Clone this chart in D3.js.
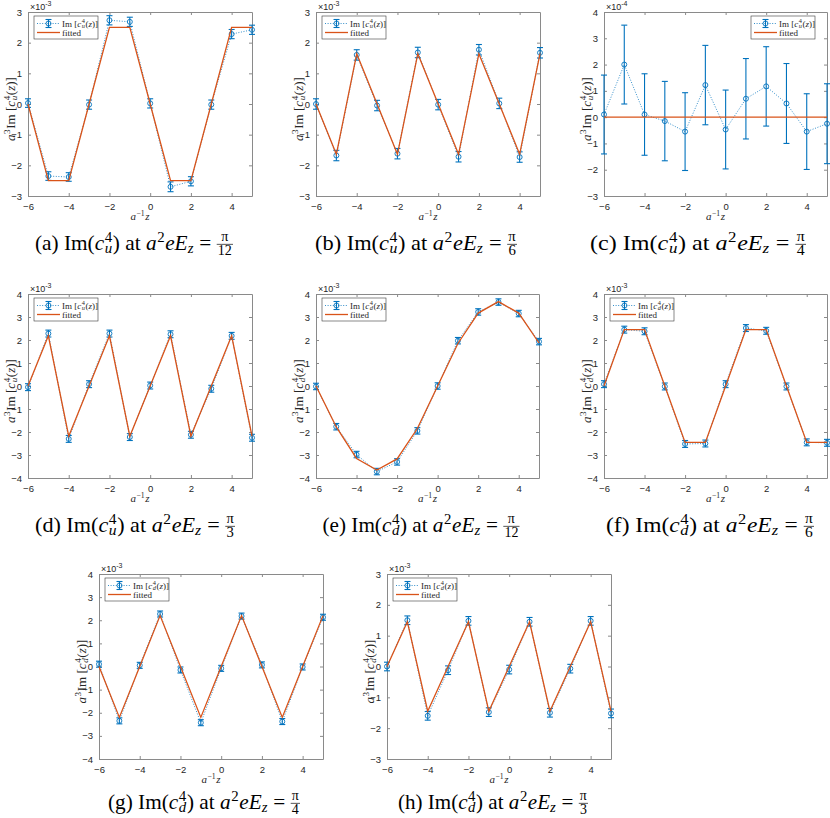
<!DOCTYPE html>
<html><head><meta charset="utf-8">
<script src="https://cdn.jsdelivr.net/npm/d3@7"></script>
<style>
body{margin:0;background:#fff;}
svg text{white-space:pre;}
</style></head>
<body><svg id="fig" width="830" height="818"></svg>
<script>
// ---------- data ----------
const zPos = [-6,-5,-4,-3,-2,-1,0,1,2,3,4,5];
const xTicks = [-6,-4,-2,0,2,4];

// (a) Im(c_u^4), a^2 eE_z = pi/12  (x10^-3)
const imA  = [0.03,-2.35,-2.38,-0.02,2.73,2.68,0.02,-2.70,-2.52,-0.02,2.28,2.42];
const errA = [0.14,0.14,0.14,0.15,0.15,0.15,0.15,0.16,0.15,0.15,0.15,0.15];
const fitA = [0,-2.5,-2.5,0,2.5,2.5,0,-2.5,-2.5,0,2.5,2.5];
// (b) Im(c_u^4), pi/6
const imB  = [0.00,-1.68,1.60,-0.05,-1.62,1.68,-0.02,-1.72,1.77,0.02,-1.73,1.67];
const errB = [0.17,0.17,0.17,0.17,0.17,0.17,0.17,0.17,0.17,0.17,0.17,0.17];
const fitB = [0,-1.64,1.64,0,-1.64,1.64,0,-1.64,1.64,0,-1.64,1.64];
// (c) Im(c_u^4), pi/4  (x10^-4)
const imC  = [0.10,2.00,0.10,-0.15,-0.55,1.22,-0.47,0.70,1.17,0.52,-0.55,-0.25];
const errC = [1.50,1.50,1.55,1.51,1.48,1.51,1.50,1.53,1.51,1.52,1.44,1.52];
const fitC = [0,0,0,0,0,0,0,0,0,0,0,0];
// (d) Im(c_u^4), pi/3
const imD  = [-0.05,2.28,-2.30,0.08,2.28,-2.22,0.02,2.25,-2.12,-0.12,2.18,-2.25];
const errD = [0.15,0.15,0.15,0.15,0.15,0.15,0.15,0.15,0.15,0.15,0.15,0.15];
const fitD = [0,2.18,-2.18,0,2.18,-2.18,0,2.18,-2.18,0,2.18,-2.18];
// (e) Im(c_d^4), pi/12
const imE  = [-0.02,-1.77,-2.98,-3.72,-3.30,-1.95,0.00,1.97,3.22,3.65,3.15,1.93];
const errE = [0.14,0.14,0.14,0.14,0.14,0.14,0.14,0.14,0.14,0.14,0.14,0.14];
const fitE = [0,-1.78,-3.15,-3.65,-3.17,-1.85,0,1.85,3.17,3.67,3.17,1.87];
// (f) Im(c_d^4), pi/6
const imF  = [0.08,2.45,2.38,-0.02,-2.52,-2.50,0.08,2.52,2.40,-0.02,-2.45,-2.47];
const errF = [0.15,0.15,0.15,0.15,0.15,0.15,0.15,0.15,0.15,0.15,0.15,0.15];
const fitF = [0,2.45,2.45,0,-2.45,-2.45,0,2.45,2.45,0,-2.45,-2.45];
// (g) Im(c_d^4), pi/4
const imG  = [0.10,-2.35,0.05,2.27,-0.15,-2.43,-0.08,2.18,0.07,-2.38,-0.02,2.13];
const errG = [0.13,0.13,0.13,0.13,0.13,0.13,0.13,0.13,0.13,0.13,0.13,0.13];
const fitG = [0,-2.2,0,2.2,0,-2.2,0,2.2,0,-2.2,0,2.2];
// (h) Im(c_d^4), pi/3
const imH  = [0.00,1.50,-1.60,-0.12,1.48,-1.48,-0.10,1.45,-1.50,-0.07,1.48,-1.52];
const errH = [0.14,0.14,0.14,0.14,0.14,0.14,0.14,0.14,0.14,0.14,0.14,0.14];
const fitH = [0,1.45,-1.45,0,1.45,-1.45,0,1.45,-1.45,0,1.45,-1.45];

const panelLetters = ["a","b","c","d","e","f","g","h"];
const quarkSub     = ["u","u","u","u","d","d","d","d"];
const fieldDenoms  = ["12","6","4","3","12","6","4","3"];
const yTickLists   = [[-3,-2,-1,0,1,2,3],[-3,-2,-1,0,1,2,3],[-3,-2,-1,0,1,2,3,4],
                      [-4,-3,-2,-1,0,1,2,3,4],[-4,-3,-2,-1,0,1,2,3,4],[-4,-3,-2,-1,0,1,2,3,4],
                      [-4,-3,-2,-1,0,1,2,3,4],[-3,-2,-1,0,1,2,3]];
const exponents    = ["-3","-3","-4","-3","-3","-3","-3","-3"];
const seriesVals   = [imA,imB,imC,imD,imE,imF,imG,imH];
const seriesErrs   = [errA,errB,errC,errD,errE,errF,errG,errH];
const seriesFits   = [fitA,fitB,fitC,fitD,fitE,fitF,fitG,fitH];

// ---------- layout ----------
const layout = [
  {left:28,  top:12,  w:224, h:184, leg:"nw", capX:134, capW:198, capDy:54},
  {left:316, top:12,  w:224, h:184, leg:"nw", capX:416, capW:202, capDy:54},
  {left:604, top:12,  w:223, h:184, leg:"ne", capX:698, capW:216, capDy:54},
  {left:28,  top:294, w:224, h:184, leg:"nw", capX:135, capW:200, capDy:54},
  {left:316, top:294, w:223, h:184, leg:"nw", capX:421, capW:197, capDy:54},
  {left:604, top:294, w:223, h:184, leg:"nw", capX:710, capW:208, capDy:54},
  {left:99,  top:574, w:224, h:185, leg:"nw", capX:204, capW:192, capDy:50},
  {left:387, top:574, w:224, h:185, leg:"nw", capX:493, capW:190, capDy:50}
];

const BLUE = "#0072BD", ORANGE = "#D95319", AXC = "#8a8a8a", TXT = "#262626";
const SERIF = "'Liberation Serif','DejaVu Serif',serif";
const SANS = "'Liberation Sans',Arial,sans-serif";
const svg = d3.select("#fig");

// ---------- small math typesetter ----------
function mathText(parent, tokens, size, fill) {
  const g = parent.append("g").attr("font-family", SERIF).attr("fill", fill || TXT);
  let x = 0;
  const add = (str, italic, sz, dy, xx) => {
    const t = g.append("text").attr("x", xx).attr("y", dy)
      .attr("font-size", sz).attr("font-style", italic ? "italic" : "normal").text(str);
    return t.node().getComputedTextLength();
  };
  tokens.forEach(tk => {
    if (tk.t !== undefined) x += add(tk.t, tk.i, size, 0, x);
    else if (tk.sup !== undefined) x += add(tk.sup, tk.i, size*0.7, -0.38*size, x + 0.5) + 1;
    else if (tk.sub !== undefined) x += add(tk.sub, tk.i, size*0.7, 0.14*size, x) + 0.5;
    else if (tk.ss !== undefined) {
      const w1 = add(tk.ss[0], false, size*0.7, -0.38*size, x + 0.5);
      const w2 = add(tk.ss[1], true, size*0.7, 0.14*size, x + 0.5);
      x += Math.max(w1, w2) + 1;
    } else if (tk.frac !== undefined) {
      const fs = size*0.66;
      const tn = g.append("text").attr("y", -0.42*size).attr("font-size", fs).text(tk.frac[0]);
      const td = g.append("text").attr("y", 0.22*size).attr("font-size", fs).text(tk.frac[1]);
      const wn = tn.node().getComputedTextLength(), wd = td.node().getComputedTextLength();
      const w = Math.max(wn, wd) + 2;
      tn.attr("x", x + (w - wn)/2); td.attr("x", x + (w - wd)/2);
      g.append("line").attr("x1", x).attr("x2", x + w)
        .attr("y1", -0.27*size).attr("y2", -0.27*size)
        .attr("stroke", fill || TXT).attr("stroke-width", 0.6);
      x += w;
    }
  });
  return {g, width:x};
}

// ---------- panels ----------
layout.forEach((L, k) => {
  const vals = seriesVals[k], errs = seriesErrs[k], fits = seriesFits[k];
  const yt = yTickLists[k];
  const x = d3.scaleLinear().domain([-6,5]).range([L.left, L.left + L.w]);
  const y = d3.scaleLinear().domain([yt[0], yt[yt.length-1]]).range([L.top + L.h, L.top]);
  const g = svg.append("g");
  const top = L.top, bot = L.top + L.h, lft = L.left, rgt = L.left + L.w;

  // axes with inward ticks on all sides
  const tickLen = 3;
  const axB = g.append("g").attr("transform", `translate(0,${bot})`)
    .call(d3.axisBottom(x).tickValues(xTicks).tickSizeInner(-tickLen).tickSizeOuter(0).tickPadding(5).tickFormat(d3.format("d")));
  const axT = g.append("g").attr("transform", `translate(0,${top})`)
    .call(d3.axisTop(x).tickValues(xTicks).tickSizeInner(-tickLen).tickSizeOuter(0).tickFormat(""));
  const axL = g.append("g").attr("transform", `translate(${lft},0)`)
    .call(d3.axisLeft(y).tickValues(yt).tickSizeInner(-tickLen).tickSizeOuter(0).tickPadding(6).tickFormat(d3.format("d")));
  const axR = g.append("g").attr("transform", `translate(${rgt},0)`)
    .call(d3.axisRight(y).tickValues(yt).tickSizeInner(-tickLen).tickSizeOuter(0).tickFormat(""));
  [axB, axT, axL, axR].forEach(a => {
    a.select(".domain").attr("stroke", AXC).attr("stroke-width", 1);
    a.selectAll(".tick line").attr("stroke", AXC).attr("stroke-width", 1);
    a.selectAll(".tick text").attr("font-family", SANS).attr("font-size", 9.5).attr("fill", TXT);
  });
  axB.selectAll(".tick text").attr("dy", "0.9em");

  // data series: dotted line, error bars, circles
  const pts = zPos.map((z, i) => ({z, v: vals[i], e: errs[i], f: fits[i]}));
  g.append("path").datum(pts)
    .attr("d", d3.line().x(d => x(d.z)).y(d => y(d.v)))
    .attr("fill", "none").attr("stroke", BLUE).attr("stroke-width", 0.8).attr("stroke-dasharray", "1,1.6");
  const eb = g.append("g").attr("stroke", BLUE).attr("stroke-width", 1.1).attr("fill", "none");
  pts.forEach(d => {
    const xx = x(d.z), y1 = y(d.v + d.e), y2 = y(d.v - d.e);
    eb.append("line").attr("x1", xx).attr("x2", xx).attr("y1", y1).attr("y2", y2);
    eb.append("line").attr("x1", xx - 3).attr("x2", xx + 3).attr("y1", y1).attr("y2", y1);
    eb.append("line").attr("x1", xx - 3).attr("x2", xx + 3).attr("y1", y2).attr("y2", y2);
  });
  g.append("g").selectAll("circle").data(pts).join("circle")
    .attr("cx", d => x(d.z)).attr("cy", d => y(d.v)).attr("r", 2.5)
    .attr("fill", "none").attr("stroke", BLUE).attr("stroke-width", 0.9);
  // fitted line
  g.append("path").datum(pts)
    .attr("d", d3.line().x(d => x(d.z)).y(d => y(d.f)))
    .attr("fill", "none").attr("stroke", ORANGE).attr("stroke-width", 1.3);

  // exponent label
  const ex = g.append("text").attr("x", lft + 2).attr("y", top - 2.5)
    .attr("font-family", SANS).attr("font-size", 9).attr("fill", TXT);
  ex.append("tspan").text("\u00D710");
  ex.append("tspan").attr("dy", -4).attr("font-size", 7).text(exponents[k]);

  // legend
  const lw = 64, lh = 23;
  const lx = L.leg === "ne" ? rgt - 12 - lw : lft + 6;
  const ly = top + 4;
  const lg = g.append("g");
  lg.append("rect").attr("x", lx).attr("y", ly).attr("width", lw).attr("height", lh)
    .attr("fill", "#fff").attr("stroke", "#3a3a3a").attr("stroke-width", 0.6);
  const r1 = ly + 7.5, r2 = ly + 16.5;
  lg.append("line").attr("x1", lx + 3).attr("x2", lx + 26).attr("y1", r1).attr("y2", r1)
    .attr("stroke", BLUE).attr("stroke-width", 0.8).attr("stroke-dasharray", "1,1.6");
  const mx = lx + 14.5;
  lg.append("line").attr("x1", mx).attr("x2", mx).attr("y1", r1 - 4).attr("y2", r1 + 4).attr("stroke", BLUE).attr("stroke-width", 1.1);
  lg.append("line").attr("x1", mx - 3).attr("x2", mx + 3).attr("y1", r1 - 4).attr("y2", r1 - 4).attr("stroke", BLUE).attr("stroke-width", 1.1);
  lg.append("line").attr("x1", mx - 3).attr("x2", mx + 3).attr("y1", r1 + 4).attr("y2", r1 + 4).attr("stroke", BLUE).attr("stroke-width", 1.1);
  lg.append("circle").attr("cx", mx).attr("cy", r1).attr("r", 2.5).attr("fill", "none").attr("stroke", BLUE).attr("stroke-width", 0.9);
  lg.append("line").attr("x1", lx + 3).attr("x2", lx + 26).attr("y1", r2).attr("y2", r2)
    .attr("stroke", ORANGE).attr("stroke-width", 1.3);
  const lt1 = mathText(lg, [{t:"Im\u00A0["},{t:"c",i:true},{ss:["4",quarkSub[k]]},{t:"("},{t:"z",i:true},{t:")]"}], 9);
  lt1.g.attr("transform", `translate(${lx + 28},${r1 + 3})`);
  const lt2 = mathText(lg, [{t:"fitted"}], 9);
  lt2.g.attr("transform", `translate(${lx + 28},${r2 + 3})`);

  // x label
  const xl = mathText(g, [{t:"a",i:true},{sup:"\u22121"},{t:"z",i:true}], 11);
  xl.g.attr("transform", `translate(${(lft + rgt)/2 - xl.width/2},${bot + 24})`);

  // y label
  const ylab = mathText(g, [{t:"a",i:true},{sup:"3"},{t:"Im\u00A0["},{t:"c",i:true},{ss:["4",quarkSub[k]]},{t:"("},{t:"z",i:true},{t:")]"}], 12);
  const ys = 64 / ylab.width;
  ylab.g.attr("transform", `translate(${lft - 13},${(top + bot)/2 + 5}) rotate(-90) scale(${ys},1) translate(${-ylab.width/2},0)`);

  // caption
  const cap = mathText(svg, [{t:`(${panelLetters[k]})\u00A0Im(`},{t:"c",i:true},{ss:["4",quarkSub[k]]},
      {t:")\u00A0at\u00A0"},{t:"a",i:true},{sup:"2"},{t:"eE",i:true},{sub:"z",i:true},{t:"\u00A0=\u00A0"},
      {frac:["\u03C0", fieldDenoms[k]]}], 19, "#000");
  const sx = L.capW / cap.width;
  cap.g.attr("transform", `translate(${L.capX - L.capW/2},${bot + L.capDy}) scale(${sx},1.1)`);
});
</script></body></html>
